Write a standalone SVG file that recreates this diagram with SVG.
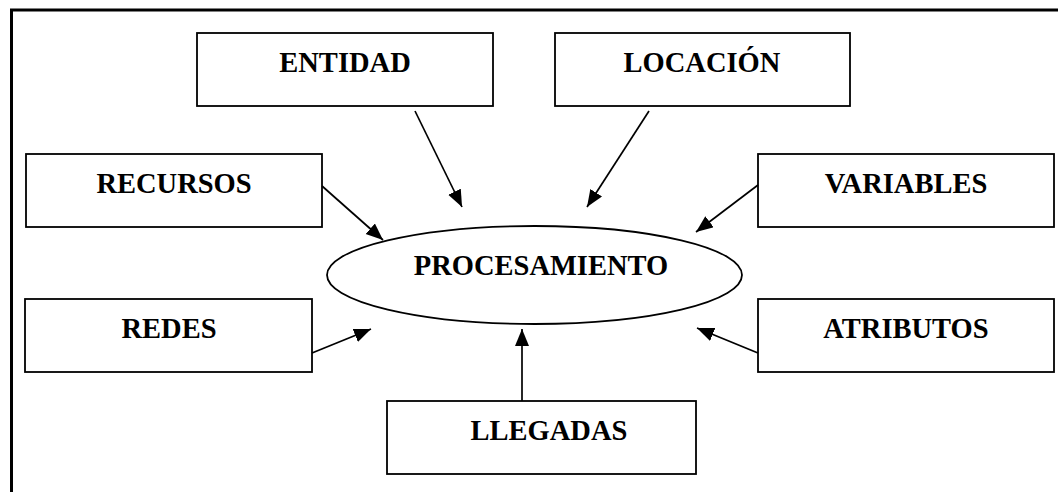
<svg xmlns="http://www.w3.org/2000/svg" width="1058" height="492" viewBox="0 0 1058 492">
  <style>
    .box { fill: #fff; stroke: #000; stroke-width: 1.8; }
    .lbl { font-family: "Liberation Serif", "Times New Roman", serif; font-weight: bold; font-size: 28.5px; fill: #000; text-anchor: middle; }
    .conn { stroke: #000; stroke-width: 1.7; fill: none; marker-end: url(#arrow); }
  </style>
  <defs>
    <marker id="arrow" markerUnits="userSpaceOnUse" markerWidth="18" markerHeight="15" refX="17" refY="7" orient="auto">
      <path d="M0,0 L17,7 L0,14 z" fill="#000"/>
    </marker>
  </defs>
  <rect width="1058" height="492" fill="#fff"/>
  <path d="M11.5,492 V10 H1058" fill="none" stroke="#000" stroke-width="3"/>

  <g id="entidad">
    <rect class="box" x="197" y="33" width="296" height="73"/>
    <text class="lbl" x="345" y="72">ENTIDAD</text>
  </g>
  <g id="locacion">
    <rect class="box" x="555" y="33" width="295" height="73"/>
    <text class="lbl" x="702" y="72">LOCACIÓN</text>
  </g>
  <g id="recursos">
    <rect class="box" x="26" y="154" width="296" height="73"/>
    <text class="lbl" x="174" y="193">RECURSOS</text>
  </g>
  <g id="variables">
    <rect class="box" x="758" y="154" width="296" height="73"/>
    <text class="lbl" x="906" y="193">VARIABLES</text>
  </g>
  <g id="procesamiento">
    <ellipse class="box" cx="534.5" cy="275" rx="207.5" ry="49"/>
    <text class="lbl" x="541" y="275">PROCESAMIENTO</text>
  </g>
  <g id="redes">
    <rect class="box" x="25" y="299" width="287" height="73"/>
    <text class="lbl" x="169" y="338">REDES</text>
  </g>
  <g id="atributos">
    <rect class="box" x="758" y="299" width="296" height="73"/>
    <text class="lbl" x="906" y="338">ATRIBUTOS</text>
  </g>
  <g id="llegadas">
    <rect class="box" x="387" y="401" width="309" height="73"/>
    <text class="lbl" x="549" y="440">LLEGADAS</text>
  </g>

  <g id="connectors">
    <line class="conn" x1="415" y1="111" x2="462" y2="207"/>
    <line class="conn" x1="649" y1="111" x2="587" y2="207"/>
    <line class="conn" x1="322" y1="186" x2="383" y2="240"/>
    <line class="conn" x1="758" y1="185" x2="696" y2="232"/>
    <line class="conn" x1="312" y1="353" x2="371" y2="329"/>
    <line class="conn" x1="758" y1="353" x2="697" y2="328"/>
    <line class="conn" x1="522" y1="401" x2="522" y2="329"/>
  </g>
</svg>
